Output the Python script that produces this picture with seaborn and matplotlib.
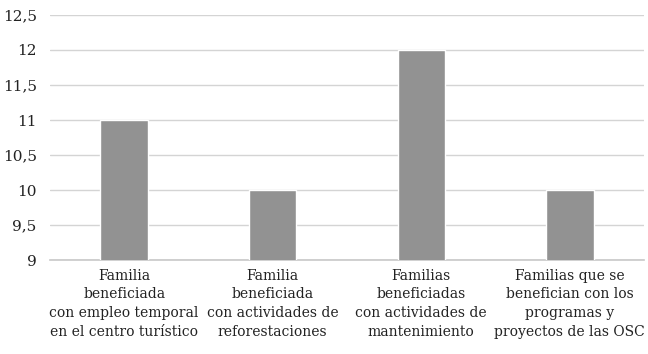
import matplotlib
matplotlib.use('Agg')
import matplotlib.pyplot as plt
import seaborn as sns
import pandas as pd
from matplotlib.ticker import FuncFormatter

sns.set_style('white')
plt.rcParams['font.family'] = ['DejaVu Serif']

# data
categorias = ['Familia\nbeneficiada\ncon empleo temporal\nen el centro turístico',
              'Familia\nbeneficiada\ncon actividades de\nreforestaciones',
              'Familias\nbeneficiadas\ncon actividades de\nmantenimiento',
              'Familias que se\nbenefician con los\nprogramas y\nproyectos de las OSC']
valores = [11, 10, 12, 10]
y_ticks = [9, 9.5, 10, 10.5, 11, 11.5, 12, 12.5]

df = pd.DataFrame({'cat': categorias, 'val': valores})

fig = plt.figure(figsize=(6.48, 3.54), dpi=100)
ax = fig.add_axes([0.077, 0.265, 0.917, 0.693])
sns.barplot(data=df, x='cat', y='val', color='#929292', width=0.32,
            saturation=1, ax=ax, zorder=3)

ax.set_ylim(9, 12.5)
ax.set_yticks(y_ticks)
ax.yaxis.set_major_formatter(FuncFormatter(lambda v, p: f'{v:g}'.replace('.', ',')))
ax.grid(axis='y', color='#d4d4d4', linewidth=1, zorder=0)
for s in ['top', 'right', 'left']:
    ax.spines[s].set_visible(False)
ax.spines['bottom'].set_color('#c8c8c8')
ax.spines['bottom'].set_linewidth(1.2)
ax.tick_params(axis='both', length=0, colors='#222222')
ax.tick_params(axis='y', labelsize=11, pad=9.5)
ax.tick_params(axis='x', labelsize=10, pad=6)
for t in ax.get_xticklabels():
    t.set_linespacing(1.45)
ax.set_xlabel('')
ax.set_ylabel('')

fig.savefig('out.png', dpi=100)
